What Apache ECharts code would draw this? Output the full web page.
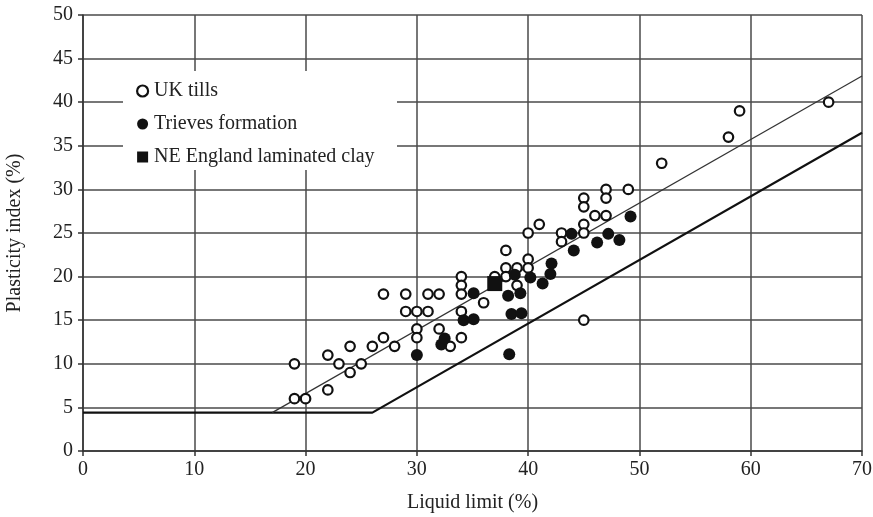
<!DOCTYPE html>
<html>
<head>
<meta charset="utf-8">
<script src="https://cdn.jsdelivr.net/npm/echarts@6/dist/echarts.min.js"></script>
<style>
  html, body { margin: 0; padding: 0; background: #fff; }
  #chart { width: 873px; height: 517px; }
</style>
</head>
<body>
<div id="chart"></div>
<script>
// Liquid limit (%) vs plasticity index (%) for three soil groups
const ukTills = [
  [19, 10], [19, 6], [20, 6], [22, 7], [22, 11], [23, 10], [24, 12], [24, 9],
  [25, 10], [26, 12], [27, 13], [27, 18], [28, 12], [29, 18], [29, 16], [30, 16],
  [30, 14], [30, 13], [31, 18], [31, 16], [32, 18], [32, 14], [33, 12], [34, 20],
  [34, 19], [34, 18], [34, 16], [34, 13], [36, 17], [37, 20], [38, 23], [38, 21],
  [38, 20], [39, 21], [39, 19], [40, 25], [40, 22], [40, 21], [41, 26], [43, 25],
  [43, 24], [45, 29], [45, 28], [45, 26], [45, 25], [45, 15], [46, 27], [47, 30],
  [47, 29], [47, 27], [49, 30], [52, 33], [58, 36], [59, 39], [67, 40]
];
const trievesFormation = [
  [30, 11], [32.2, 12.2], [32.5, 12.9], [34.2, 15], [35.1, 15.1], [35.1, 18.1],
  [38.2, 17.8], [38.3, 11.1], [38.5, 15.7], [39.4, 15.8], [38.8, 20.2], [39.3, 18.1],
  [40.2, 19.9], [41.3, 19.2], [42, 20.3], [42.1, 21.5], [43.9, 24.9], [44.1, 23.0],
  [46.2, 23.9], [47.2, 24.9], [48.2, 24.2], [49.2, 26.9]
];
const neEnglandClay = [[37, 19.2]];

// Reference lines: A-line with its 4.4 floor, and a parallel line above it
const aLine = [[0, 4.4], [26, 4.4], [70, 36.5]];
const upperLine = [[17, 4.4], [70, 43]];

const xTicks = { min: 0, max: 70, interval: 10 };
const yTicks = { min: 0, max: 50, interval: 5 };

const FONT = '"Liberation Serif", "DejaVu Serif", serif';
const GRID_COLOR = '#4a4a4a';
const INK = '#111';

const chart = echarts.init(document.getElementById('chart'), null, { renderer: 'canvas' });

chart.setOption({
  animation: false,
  backgroundColor: '#fff',
  textStyle: { fontFamily: FONT },
  grid: { left: 83, right: 11, top: 15, bottom: 66, containLabel: false, outerBoundsMode: 'none' },
  xAxis: {
    type: 'value',
    min: xTicks.min, max: xTicks.max, interval: xTicks.interval,
    name: 'Liquid limit (%)',
    nameLocation: 'middle',
    nameGap: 42,
    nameTextStyle: { fontFamily: FONT, fontSize: 20, color: '#222' },
    axisLine: { show: true, lineStyle: { color: '#333', width: 1.5 } },
    axisTick: { show: true, length: 5, lineStyle: { color: '#333', width: 1.5 } },
    axisLabel: { fontFamily: FONT, fontSize: 20, color: '#222', margin: 9 },
    splitLine: { show: true, lineStyle: { color: GRID_COLOR, width: 1.5 } }
  },
  yAxis: {
    type: 'value',
    min: yTicks.min, max: yTicks.max, interval: yTicks.interval,
    name: 'Plasticity index (%)',
    nameLocation: 'middle',
    nameGap: 58,
    nameRotate: 90,
    nameTextStyle: { fontFamily: FONT, fontSize: 20, color: '#222' },
    axisLine: { show: true, lineStyle: { color: '#333', width: 1.5 } },
    axisTick: { show: true, length: 5, lineStyle: { color: '#333', width: 1.5 } },
    axisLabel: { fontFamily: FONT, fontSize: 20, color: '#222', margin: 10 },
    splitLine: { show: true, lineStyle: { color: GRID_COLOR, width: 1.5 } }
  },
  graphic: [{
    type: 'rect',
    z: 5,
    shape: { x: 123, y: 71, width: 274, height: 99 },
    style: { fill: '#fff' }
  }],
  legend: {
    z: 10,
    orient: 'vertical',
    left: 131,
    top: 76,
    itemGap: 13,
    itemWidth: 11,
    itemHeight: 11,
    textStyle: { fontFamily: FONT, fontSize: 20, color: '#222', padding: [0, 0, 0, 1] },
    data: [
      { name: 'UK tills', icon: 'circle', itemStyle: { color: '#fff', borderColor: INK, borderWidth: 2.2, opacity: 1 } },
      { name: 'Trieves formation', icon: 'circle', itemStyle: { color: INK, opacity: 1 } },
      { name: 'NE England laminated clay', icon: 'rect', itemStyle: { color: INK, opacity: 1 } }
    ]
  },
  series: [
    {
      name: 'A-line',
      type: 'line',
      data: aLine,
      symbol: 'none',
      silent: true,
      lineStyle: { color: INK, width: 2.2 },
      z: 3
    },
    {
      name: 'Upper line',
      type: 'line',
      data: upperLine,
      symbol: 'none',
      silent: true,
      lineStyle: { color: '#333', width: 1.2 },
      z: 3
    },
    {
      name: 'UK tills',
      type: 'scatter',
      data: ukTills,
      symbol: 'circle',
      symbolSize: 9.5,
      itemStyle: { color: '#fff', borderColor: INK, borderWidth: 2.2, opacity: 1 },
      z: 6
    },
    {
      name: 'Trieves formation',
      type: 'scatter',
      data: trievesFormation,
      symbol: 'circle',
      symbolSize: 12,
      itemStyle: { color: INK, opacity: 1 },
      z: 7
    },
    {
      name: 'NE England laminated clay',
      type: 'scatter',
      data: neEnglandClay,
      symbol: 'rect',
      symbolSize: 15,
      itemStyle: { color: INK, opacity: 1 },
      z: 8
    }
  ]
});
</script>
</body>
</html>
